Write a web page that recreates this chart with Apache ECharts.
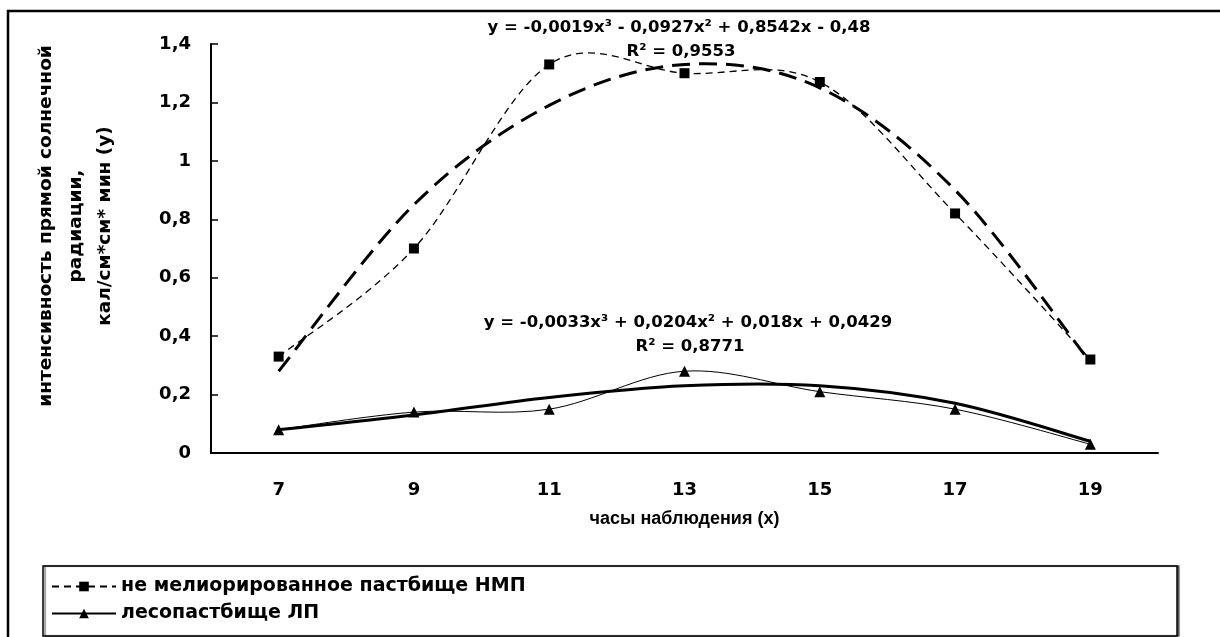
<!DOCTYPE html>
<html>
<head>
<meta charset="utf-8">
<script src="https://cdn.jsdelivr.net/npm/echarts@6/dist/echarts.min.js"></script>
<style>
  html, body { margin: 0; padding: 0; background: #fff; }
  #chart { width: 1220px; height: 637px; }
</style>
</head>
<body>
<div id="chart"></div>
<script>
// часы наблюдения
const hours = ['7', '9', '11', '13', '15', '17', '19']
// не мелиорированное пастбище НМП
const nmp = [0.33, 0.70, 1.33, 1.30, 1.27, 0.82, 0.32]
const nmpTrend = [0.28, 0.85, 1.19, 1.33, 1.25, 0.90, 0.31]
// лесопастбище ЛП
const lp = [0.08, 0.14, 0.15, 0.28, 0.21, 0.15, 0.03]
const lpTrend = [0.08, 0.13, 0.19, 0.23, 0.23, 0.17, 0.04]
const yTickLabels = ['0', '0,2', '0,4', '0,6', '0,8', '1', '1,2', '1,4']
const yTitle = ['интенсивность прямой солнечной', 'радиации,', 'кал/см*см* мин (y)']
const nmpEquation = ['y = -0,0019x³ - 0,0927x² + 0,8542x - 0,48', 'R² = 0,9553']
const lpEquation = ['y = -0,0033x³ + 0,0204x² + 0,018x + 0,0429', 'R² = 0,8771']

const font = 'DejaVu Sans'
const chart = echarts.init(document.getElementById('chart'))

// сглаженная кривая как в Excel (Catmull-Rom), точки берутся через api.coord
function smoothPath(api, values) {
  const pts = values.map((v, i) => api.coord([i, v]))
  let d = 'M' + pts[0][0] + ' ' + pts[0][1]
  for (let i = 0; i < pts.length - 1; i++) {
    const p0 = pts[Math.max(i - 1, 0)]
    const p1 = pts[i]
    const p2 = pts[i + 1]
    const p3 = pts[Math.min(i + 2, pts.length - 1)]
    const c1x = p1[0] + (p2[0] - p0[0]) / 6
    const c1y = p1[1] + (p2[1] - p0[1]) / 6
    const c2x = p2[0] - (p3[0] - p1[0]) / 6
    const c2y = p2[1] - (p3[1] - p1[1]) / 6
    d += ' C' + c1x + ' ' + c1y + ' ' + c2x + ' ' + c2y + ' ' + p2[0] + ' ' + p2[1]
  }
  return d
}

function curveSeries(values, lineStyle) {
  return {
    type: 'custom',
    data: values.map((v, i) => [i, v]),
    silent: true,
    z: 2,
    renderItem: (params, api) => {
      if (params.dataIndex !== 0) return
      return {
        type: 'path',
        shape: { pathData: smoothPath(api, values) },
        style: Object.assign({ fill: 'none', stroke: '#000' }, lineStyle)
      }
    }
  }
}

const option = {
  animation: false,
  backgroundColor: '#fff',
  grid: { left: 211, right: 62, top: 44, bottom: 184 },
  legend: {
    data: ['не мелиорированное пастбище НМП', 'лесопастбище ЛП'],
    orient: 'vertical',
    left: 46,
    top: 572,
    itemWidth: 64,
    itemHeight: 12,
    itemGap: 8,
    lineStyle: { opacity: 1 },
    textStyle: { fontFamily: font, fontWeight: 'bold', fontSize: 19, color: '#000' }
  },
  xAxis: {
    type: 'category',
    data: hours,
    boundaryGap: true,
    name: 'часы наблюдения (x)',
    nameLocation: 'middle',
    nameGap: 57,
    nameTextStyle: { fontFamily: '"Liberation Sans", sans-serif', fontWeight: 'bold', fontSize: 18, color: '#000' },
    axisLine: { lineStyle: { color: '#000', width: 2 } },
    axisTick: { inside: true, length: 6, lineStyle: { color: '#000', width: 1.5 } },
    axisLabel: { margin: 28, fontFamily: font, fontWeight: 'bold', fontSize: 18, color: '#000' },
    splitLine: { show: false }
  },
  yAxis: {
    type: 'value',
    min: 0,
    max: 1.4,
    interval: 0.2,
    axisLine: { show: true, lineStyle: { color: '#000', width: 2 } },
    axisTick: { show: true, inside: true, length: 7, lineStyle: { color: '#000', width: 1.5 } },
    axisLabel: {
      margin: 20,
      fontFamily: font, fontWeight: 'bold', fontSize: 18, color: '#000',
      formatter: v => yTickLabels[Math.round(v / 0.2)]
    },
    splitLine: { show: false }
  },
  series: [
    {
      name: 'не мелиорированное пастбище НМП',
      type: 'line',
      data: nmp,
      symbol: 'rect',
      symbolSize: 10,
      itemStyle: { color: '#000' },
      lineStyle: { color: '#000', width: 1.3, type: [7, 5], opacity: 0 },
      z: 3
    },
    curveSeries(nmp, { lineWidth: 1.3, lineDash: [7, 5] }),
    curveSeries(nmpTrend, { lineWidth: 3, lineDash: [18, 9] }),
    {
      name: 'лесопастбище ЛП',
      type: 'line',
      data: lp,
      symbol: 'triangle',
      symbolSize: 11,
      itemStyle: { color: '#000' },
      lineStyle: { color: '#000', width: 1, opacity: 0 },
      z: 3
    },
    curveSeries(lp, { lineWidth: 1 }),
    curveSeries(lpTrend, { lineWidth: 3 })
  ],
  graphic: [
    // рамка всей диаграммы
    { type: 'rect', silent: true, z: -10, shape: { x: 8, y: 11, width: 1300, height: 700 },
      style: { fill: null, stroke: '#000', lineWidth: 2.5 } },
    // рамка легенды
    { type: 'rect', silent: true, z: -5, shape: { x: 43, y: 566, width: 1134, height: 70 },
      style: { fill: '#fff', stroke: '#000', lineWidth: 1.5, shadowColor: 'rgba(0,0,0,0.5)', shadowOffsetX: 2, shadowBlur: 1 } },
    // подпись оси y
    { type: 'text', x: 46, y: 226, rotation: Math.PI / 2, silent: true,
      style: { text: yTitle[0], font: 'bold 18.5px ' + font, fill: '#000', align: 'center', verticalAlign: 'middle' } },
    { type: 'text', x: 76, y: 226, rotation: Math.PI / 2, silent: true,
      style: { text: yTitle[1], font: 'bold 18.5px ' + font, fill: '#000', align: 'center', verticalAlign: 'middle' } },
    { type: 'text', x: 105, y: 226, rotation: Math.PI / 2, silent: true,
      style: { text: yTitle[2], font: 'bold 18.5px ' + font, fill: '#000', align: 'center', verticalAlign: 'middle' } },
    // уравнения трендов
    { type: 'text', x: 679, y: 28, silent: true,
      style: { text: nmpEquation[0], font: 'bold 16.5px ' + font, fill: '#000', align: 'center', verticalAlign: 'middle' } },
    { type: 'text', x: 681, y: 52, silent: true,
      style: { text: nmpEquation[1], font: 'bold 16.5px ' + font, fill: '#000', align: 'center', verticalAlign: 'middle' } },
    { type: 'text', x: 688, y: 323, silent: true,
      style: { text: lpEquation[0], font: 'bold 16.5px ' + font, fill: '#000', align: 'center', verticalAlign: 'middle' } },
    { type: 'text', x: 690, y: 347, silent: true,
      style: { text: lpEquation[1], font: 'bold 16.5px ' + font, fill: '#000', align: 'center', verticalAlign: 'middle' } }
  ]
}

chart.setOption(option)
window.addEventListener('resize', () => chart.resize())
</script>
</body>
</html>
